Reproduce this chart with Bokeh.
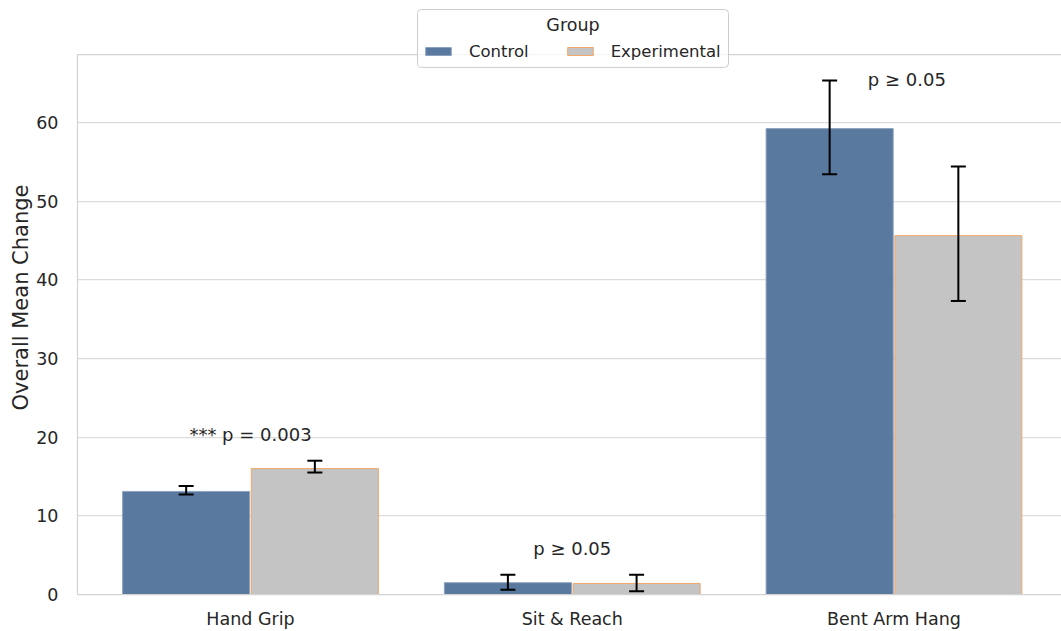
from bokeh.plotting import figure
from bokeh.models import (ColumnDataSource, Range1d, FixedTicker, Whisker, TeeHead,
                          Span, Legend, LegendItem, BoxAnnotation, Label)
from bokeh.transform import dodge
from bokeh.core.properties import value
from bokeh.embed import file_html
from bokeh.resources import INLINE

# ---- data ----
categories = ["Hand Grip", "Sit & Reach", "Bent Arm Hang"]
groups = ["Control", "Experimental"]
control_mean = [13.1, 1.5, 59.2]
control_lower = [12.7, 0.6, 53.4]
control_upper = [13.8, 2.5, 65.3]
exp_mean = [16.0, 1.4, 45.6]
exp_lower = [15.5, 0.4, 37.3]
exp_upper = [17.0, 2.5, 54.4]
annot_text = ["*** p = 0.003", "p \u2265 0.05", "p \u2265 0.05"]
annot_x = [0.0, 1.0, 2.04]
annot_y = [20.3, 5.9, 65.5]
y_ticks = [0, 10, 20, 30, 40, 50, 60]
y_axis_top = 68.6
legend_title = "Group"

FONT = "DejaVu Sans"
TXT = "#262626"
SPINE = "#d2d2d2"

# layout: frame spans canvas px x 77..1061, y 0..595
X0, X1 = -0.5377, 2.5206
Y0, Y1 = 0.0, 75.48
FL, FR, FT, FB = 77, 1061, 0, 595

def px_x(px):
    return X0 + (px - FL) * (X1 - X0) / (FR - FL)

def px_y(py):
    return Y0 + (FB - py) * (Y1 - Y0) / (FB - FT)

xpos = list(range(len(categories)))
src_c = ColumnDataSource(dict(x=xpos, value=control_mean, lower=control_lower, upper=control_upper))
src_e = ColumnDataSource(dict(x=xpos, value=exp_mean, lower=exp_lower, upper=exp_upper))
src_a = ColumnDataSource(dict(x=annot_x, y=annot_y, t=annot_text))

p = figure(width=1061, height=631, output_backend="svg", toolbar_location=None,
           x_range=Range1d(X0, X1), y_range=Range1d(Y0, Y1),
           min_border_left=FL, min_border_right=0, min_border_top=FT, min_border_bottom=36)
p.outline_line_color = None
p.background_fill_color = "white"

bar_c = p.vbar(x=dodge("x", -0.2, range=p.x_range), top="value", width=0.395, bottom=0,
               source=src_c, fill_color="#59799e", line_color="#8ca3bf", line_width=1)
bar_e = p.vbar(x=dodge("x", 0.2, range=p.x_range), top="value", width=0.395, bottom=0,
               source=src_e, fill_color="#c4c4c4", line_color="#f0a868", line_width=1)

for src, off in ((src_c, -0.2), (src_e, 0.2)):
    w = Whisker(source=src, base=dodge("x", off, range=p.x_range), lower="lower", upper="upper",
                line_color="black", line_width=2,
                lower_head=TeeHead(size=15, line_color="black", line_width=2),
                upper_head=TeeHead(size=15, line_color="black", line_width=2))
    w.level = "annotation"
    p.add_layout(w)

p.text(x="x", y="y", text="t", source=src_a, text_font=value(FONT), text_font_size="18px",
       text_color=TXT, text_align="center", text_baseline="middle")

# axes
p.xaxis.ticker = FixedTicker(ticks=xpos)
p.xaxis.major_label_overrides = {i: c for i, c in enumerate(categories)}
p.yaxis.ticker = FixedTicker(ticks=y_ticks)
p.yaxis.bounds = (0, y_axis_top)
for ax in (p.xaxis[0], p.yaxis[0]):
    ax.axis_line_color = SPINE
    ax.axis_line_width = 1.25
    ax.major_tick_line_color = None
    ax.minor_tick_line_color = None
    ax.major_label_text_font = FONT
    ax.major_label_text_font_size = "17.5px"
    ax.major_label_text_color = TXT
p.xaxis.major_label_standoff = 8
p.yaxis.major_label_standoff = 13
p.yaxis.axis_label = "Overall Mean Change"
p.yaxis.axis_label_text_font = FONT
p.yaxis.axis_label_text_font_size = "21px"
p.yaxis.axis_label_text_font_style = "normal"
p.yaxis.axis_label_text_color = TXT
p.yaxis.axis_label_standoff = 0

# top spine
p.add_layout(Span(location=y_axis_top, dimension="width", line_color=SPINE, line_width=1.25))

p.xgrid.grid_line_color = None
p.ygrid.grid_line_color = "#dcdcdc"
p.ygrid.grid_line_width = 1.25

# legend frame + centred title
p.add_layout(BoxAnnotation(left=px_x(417), right=px_x(728), top=px_y(9), bottom=px_y(67),
                           fill_color="white", fill_alpha=0.8, line_color="#cccccc",
                           line_alpha=1.0, line_width=1, border_radius=4, level="annotation"))
p.add_layout(Label(x=px_x(572.5), y=px_y(25), text=legend_title, text_font=FONT,
                   text_font_size="17.5px", text_color=TXT, text_align="center",
                   text_baseline="middle"))

legend = Legend(items=[LegendItem(label=groups[0], renderers=[bar_c]),
                       LegendItem(label=groups[1], renderers=[bar_e])],
                orientation="horizontal", location=(345, 533),
                label_text_font=FONT, label_text_font_size="16.5px", label_text_color=TXT,
                glyph_width=32, glyph_height=10, label_standoff=15, spacing=35,
                label_height=20, padding=6, margin=0,
                border_line_color=None, background_fill_alpha=0)
p.add_layout(legend, "center")

open("out.html", "w").write(file_html(p, INLINE))
